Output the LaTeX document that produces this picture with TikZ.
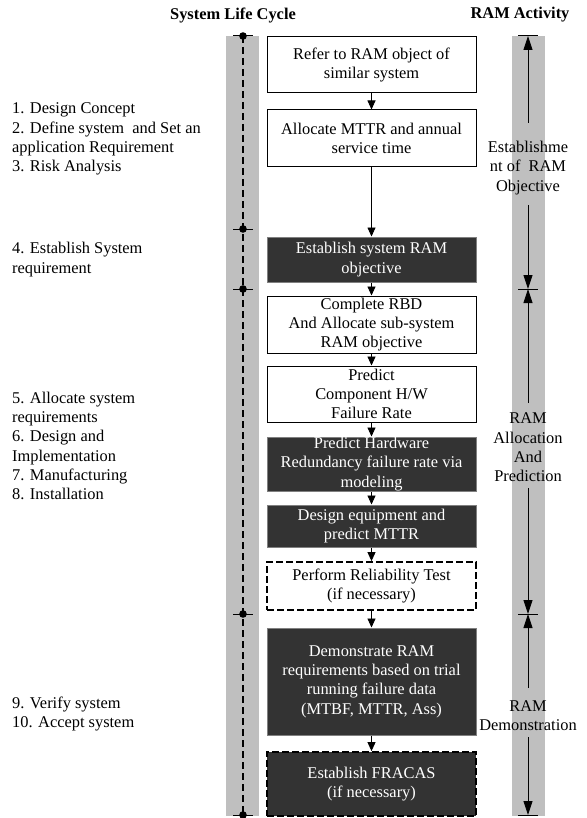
\documentclass[tikz,border=0pt]{standalone}
\usepackage{fontspec}
\setmainfont{Liberation Serif}
\usetikzlibrary{arrows.meta}
\definecolor{bandgray}{HTML}{BFBFBF}
\definecolor{boxdark}{HTML}{333333}

\begin{document}
\begin{tikzpicture}[x=1pt, y=-1pt,
  every node/.style={font=\fontsize{16.4}{19.3}\selectfont},
  stepbox/.style={draw, line width=1pt, minimum width=209pt, align=center, inner sep=0pt},
  darkbox/.style={stepbox, fill=boxdark, draw=gray, text=white},
  optbox/.style={dash pattern=on 7pt off 3pt, line width=1.8pt, draw=black},
  flow/.style={-{Triangle[length=9pt, width=8pt]}, line width=0.9pt},
  span/.style={-{Triangle[length=14pt, width=9pt]}, line width=0.9pt},
  phase/.style={align=left, anchor=west, inner sep=0pt},
  ramlabel/.style={align=center, inner sep=0pt},
  title/.style={font=\fontsize{16.4}{19.3}\selectfont\bfseries}]
\useasboundingbox (0,0) rectangle (586,818);

\fill[bandgray] (226,36) rectangle (259,816);
\fill[bandgray] (512,36) rectangle (545,816);

\node at (233,15) [title] (lifetitle) {System Life Cycle};
\node at (520,15) [title] (ramtitle) {RAM Activity};

\node at (12,139) [phase] (ph1) {1. Design Concept\\2. Define system\ \ and Set an\\application Requirement\\3. Risk Analysis};
\node at (12,259.5) [phase] (ph2) {4. Establish System\\requirement};
\node at (12,446) [phase] (ph3) {5. Allocate system\\requirements\\6. Design and\\Implementation\\7. Manufacturing\\8. Installation};
\node at (12,714) [phase] (ph4) {9. Verify system\\10. Accept system};

\coordinate (l0) at (243,36);
\coordinate (l1) at (243,229);
\coordinate (l2) at (243,289);
\coordinate (l3) at (243,614);
\coordinate (l4) at (243,815);
\draw[line width=1.4pt, dash pattern=on 7pt off 4pt] (l0) -- (l4);
\foreach \p in {l0,l1,l2,l3,l4} {
  \draw[line width=1pt] ([xshift=-10pt]\p) -- ([xshift=10pt]\p);
  \fill (\p) circle (3.8pt);
}

\node at (371.5,65) [stepbox, minimum height=56pt] (b1) {Refer to RAM object of\\similar system};
\node at (371.5,138.5) [stepbox, minimum height=57pt] (b2) {Allocate MTTR and annual\\service time};
\node at (371.5,259.5) [darkbox, minimum height=45pt] (b3) {Establish system RAM\\objective};
\node at (371.5,324.5) [stepbox, minimum height=57pt] (b4) {Complete RBD\\And Allocate sub-system\\RAM objective};
\node at (371.5,394) [stepbox, minimum height=56pt] (b5) {Predict\\Component H/W\\Failure Rate};
\node at (371.5,464) [darkbox, minimum height=54pt] (b6) {Predict Hardware\\Redundancy failure rate via\\modeling};
\node at (371.5,526) [darkbox, minimum height=42pt] (b7) {Design equipment and\\predict MTTR};
\node at (371.5,586) [stepbox, optbox, minimum height=48pt] (b8) {Perform Reliability Test\\(if necessary)};
\node at (371.5,681.5) [darkbox, minimum height=107pt] (b9) {Demonstrate RAM\\requirements based on trial\\running failure data\\(MTBF, MTTR, Ass)};
\node at (371.5,784) [darkbox, optbox, minimum height=64pt] (b10) {Establish FRACAS\\(if necessary)};

\draw[flow] (b1) -- (b2);
\draw[flow] (b2) -- (b3);
\draw[flow] (b3) -- (b4);
\draw[flow] (b4) -- (b5);
\draw[flow] (b5) -- (b6);
\draw[flow] (b6) -- (b7);
\draw[flow] (b7) -- (b8);
\draw[flow] (b8) -- (b9);
\draw[flow] (b9) -- (b10);

\coordinate (r0) at (528,36);
\coordinate (r1) at (528,289);
\coordinate (r2) at (528,614);
\coordinate (r3) at (528,815);
\foreach \p in {r0,r1,r2,r3}
  \draw[line width=1pt] ([xshift=-10pt]\p) -- ([xshift=10pt]\p);

\node at (528,168) [ramlabel] (act1) {Establishme\\nt of\ \ RAM\\Objective};
\node at (528,447.5) [ramlabel] (act2) {RAM\\Allocation\\And\\Prediction};
\node at (528,716) [ramlabel] (act3) {RAM\\Demonstration};

\coordinate (a1u) at (528,123);
\coordinate (a1d) at (528,205);
\coordinate (a2u) at (528,403);
\coordinate (a2d) at (528,488);
\coordinate (a3u) at (528,688);
\coordinate (a3d) at (528,737);
\draw[span] (a1u) -- (r0);
\draw[span] (a1d) -- (r1);
\draw[span] (a2u) -- (r1);
\draw[span] (a2d) -- (r2);
\draw[span] (a3u) -- (r2);
\draw[span] (a3d) -- (r3);
\end{tikzpicture}
\end{document}
